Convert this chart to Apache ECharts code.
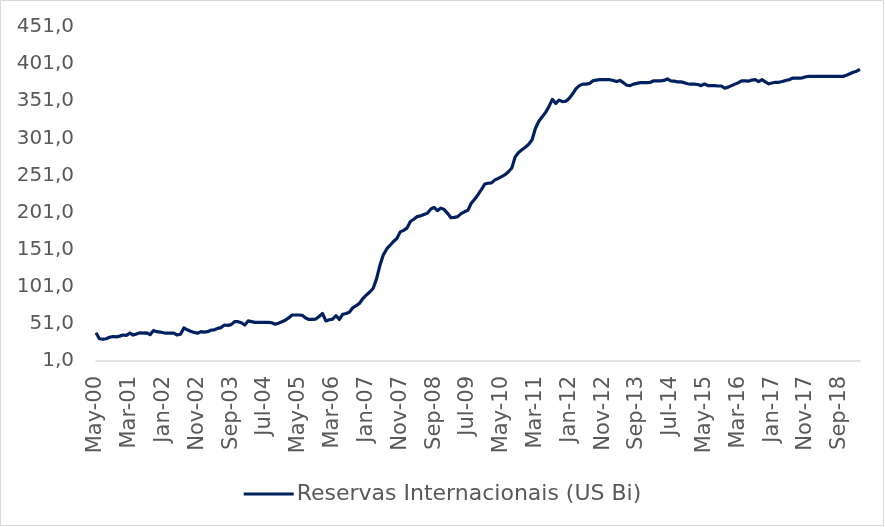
<!DOCTYPE html>
<html>
<head>
<meta charset="utf-8">
<script src="https://cdn.jsdelivr.net/npm/echarts@6/dist/echarts.min.js"></script>
<style>
  html, body { margin: 0; padding: 0; background: #fff; }
  #chart { width: 885px; height: 527px; }
</style>
</head>
<body>
<div id="chart"></div>
<script>
// meses: May-00 ate Mar-19
const monthNames = ['Jan', 'Feb', 'Mar', 'Apr', 'May', 'Jun', 'Jul', 'Aug', 'Sep', 'Oct', 'Nov', 'Dec']
const categories = []
for (let k = 4; k <= 4 + 226; k++) {
  const yy = 2000 + Math.floor(k / 12)
  categories.push(monthNames[k % 12] + '-' + String(yy % 100).padStart(2, '0'))
}

// Reservas Internacionais (US Bi)
const reservas = [
  39, 31, 30.5, 31, 33, 34, 33.5, 34.5, 36, 35.5,
  38.5, 36, 37.5, 39, 38.5, 39, 36.5, 42, 40.5, 40,
  39, 38.5, 38.7, 38.5, 36, 37, 45.5, 43, 41, 39.5,
  38.5, 40.5, 40, 40.5, 42.5, 43, 45, 46, 49.5, 49,
  50, 54, 54, 52.5, 49.5, 55, 54, 53, 53, 53,
  53, 53, 52.5, 50.5, 52, 54, 56, 59, 63, 63,
  63, 62.5, 59, 57, 57, 57.5, 61, 65, 55, 56.5,
  57.5, 62, 57, 64, 65, 67, 73, 75.5, 79, 85.5,
  90, 94, 99, 112, 130, 144, 152, 157, 162, 166,
  175, 177, 180, 189, 192, 195.5, 196.5, 198.5, 200, 205.5,
  208, 203.5, 207, 205, 200, 194, 194.5, 195.5, 199.5, 202,
  204, 213.5, 219, 225, 232, 239.5, 240.5, 241, 245, 247,
  249.5, 252, 256, 261, 276, 282, 285.5, 289, 293, 299,
  314.5, 324, 330, 336, 344, 353.5, 348, 352.5, 350.5, 351,
  355, 361, 368, 372, 374, 374, 375, 378.5, 379.5, 380,
  380, 380, 380, 379, 377.5, 379, 376, 372.5, 372, 374,
  375, 376, 376, 376, 376.5, 378.5, 378.5, 378.5, 379, 381,
  378.5, 378, 377, 377, 376, 374.5, 374, 374, 373.5, 372,
  374.5, 372, 372, 372, 371.5, 371.5, 368.5, 370, 372, 374,
  376, 378.5, 378.5, 378, 379.5, 380, 377.5, 380, 377, 374.5,
  375.5, 376.5, 376.5, 377.5, 379, 380, 382, 382, 382, 382.5,
  384, 384.5, 384.5, 384.5, 384.5, 384.5, 384.5, 384.5, 384.5, 384.5,
  384.5, 384.5, 386, 388, 390, 391.5, 394
]

const yMin = 1
const yMax = 451
const yStep = 50

const myChart = echarts.init(document.getElementById('chart'))
const option = {
  backgroundColor: '#fff',
  animation: false,
  textStyle: { fontFamily: 'DejaVu Sans, Arial, sans-serif' },
  graphic: [{
    type: 'rect',
    shape: { x: 0.5, y: 0.5, width: 883, height: 525 },
    style: { fill: 'none', stroke: '#d9d9d9', lineWidth: 1 }
  }],
  grid: { left: 96, right: 25, top: 27, bottom: 166 },
  legend: {
    bottom: 22,
    left: 'center',
    padding: 0,
    itemWidth: 50,
    itemHeight: 3,
    itemGap: 10,
    icon: 'rect',
    textStyle: { color: '#595959', fontSize: 22, padding: [0, 0, 0, -2] },
    data: ['Reservas Internacionais (US Bi)']
  },
  xAxis: {
    type: 'category',
    data: categories,
    boundaryGap: false,
    axisLine: { lineStyle: { color: '#d9d9d9', width: 1.5 } },
    axisTick: { show: false },
    axisLabel: {
      interval: 9,
      rotate: 90,
      margin: 15,
      color: '#595959',
      fontSize: 21
    },
    splitLine: { show: false }
  },
  yAxis: {
    type: 'value',
    min: yMin,
    max: yMax,
    interval: yStep,
    axisLine: { show: false },
    axisTick: { show: false },
    splitLine: { show: false },
    axisLabel: {
      margin: 22,
      color: '#595959',
      fontSize: 20,
      formatter: v => v.toFixed(1).replace('.', ',')
    }
  },
  series: [{
    name: 'Reservas Internacionais (US Bi)',
    type: 'line',
    data: reservas,
    showSymbol: false,
    color: '#002060',
    lineStyle: { width: 3.2, color: '#002060', join: 'round' }
  }]
}
myChart.setOption(option)
</script>
</body>
</html>
